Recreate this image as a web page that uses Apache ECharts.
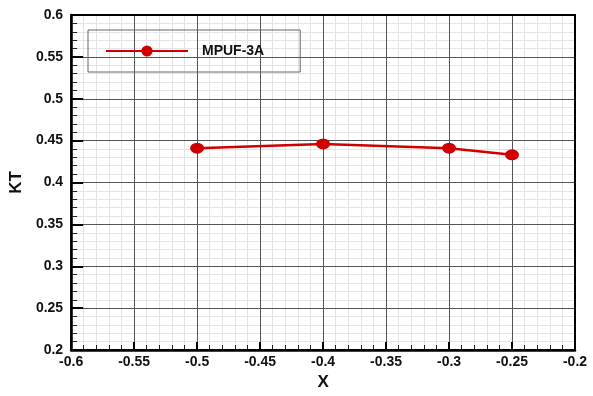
<!DOCTYPE html>
<html>
<head>
<meta charset="utf-8">
<script src="https://cdn.jsdelivr.net/npm/echarts@6/dist/echarts.min.js"></script>
<style>html,body{margin:0;padding:0;background:#fff}#c{width:593px;height:396px}</style>
</head>
<body>
<div id="c"></div>
<script>
var xValues = [-0.5, -0.4, -0.3, -0.25];
var ktValues = [0.441, 0.446, 0.441, 0.433];
var seriesName = 'MPUF-3A';
var xTicks = ['-0.6','-0.55','-0.5','-0.45','-0.4','-0.35','-0.3','-0.25','-0.2'];
var yTicks = ['0.2','0.25','0.3','0.35','0.4','0.45','0.5','0.55','0.6'];

var chart = echarts.init(document.getElementById('c'));
var font = 'Liberation Sans, Arial, sans-serif';
function fmt(list, min, step) {
  return function (v) { var i = Math.round((v - min) / step); return list[i] !== undefined ? list[i] : ''; };
}
var axisText = { fontFamily: font, fontWeight: 'bold', fontSize: 14, color: '#111' };
var nameText = { fontFamily: font, fontWeight: 'bold', fontSize: 17, color: '#111' };
function minorAxis(min, max, pos) {
  return {
    type: 'value', min: min, max: max, interval: 0.05, position: pos, z: 0,
    axisLine: { show: false, onZero: false }, axisTick: { show: false }, axisLabel: { show: false },
    splitLine: { show: false },
    minorTick: { show: false, splitNumber: 5 },
    minorSplitLine: { show: true, lineStyle: { color: '#e4e4e4', width: 1 } }
  };
}
chart.setOption({
  animation: false,
  grid: { left: 66, right: 18, top: 15, bottom: 41, show: true, borderColor: '#000', borderWidth: 2, backgroundColor: 'transparent', z: 3 },
  legend: {
    left: 88, top: 30,
    data: [seriesName],
    borderColor: '#666', borderWidth: 1, borderRadius: 0,
    backgroundColor: 'transparent',
    padding: [14, 36, 14, 17],
    itemWidth: 82, itemHeight: 14,
    textStyle: { fontFamily: font, fontWeight: 'bold', fontSize: 14, color: '#111', padding: [0, 0, 0, 9] }
  },
  xAxis: [
    minorAxis(-0.6, -0.2, 'top'),
    {
      type: 'value', min: -0.6, max: -0.2, interval: 0.05, position: 'bottom', z: 1,
      name: 'X', nameLocation: 'middle', nameGap: 24,
      nameTextStyle: nameText,
      axisLine: { show: true, onZero: false, lineStyle: { color: '#000', width: 2.5 } },
      axisTick: { show: true, inside: true, length: 8, lineStyle: { color: '#000', width: 2 } },
      minorTick: { show: true, splitNumber: 5, length: 5, lineStyle: { color: '#222', width: 1 } },
      axisLabel: Object.assign({ margin: 5, formatter: fmt(xTicks, -0.6, 0.05) }, axisText),
      splitLine: { show: true, lineStyle: { color: '#555', width: 1 } },
      minorSplitLine: { show: false }
    }
  ],
  yAxis: [
    minorAxis(0.2, 0.6, 'right'),
    {
      type: 'value', min: 0.2, max: 0.6, interval: 0.05, position: 'left', z: 1,
      name: 'KT', nameLocation: 'middle', nameGap: 44,
      nameTextStyle: nameText,
      axisLine: { show: true, onZero: false, lineStyle: { color: '#000', width: 2.5 } },
      axisTick: { show: true, inside: true, length: 12, lineStyle: { color: '#000', width: 2 } },
      minorTick: { show: true, splitNumber: 5, length: 6, lineStyle: { color: '#222', width: 1 } },
      axisLabel: Object.assign({ margin: 8, formatter: fmt(yTicks, 0.2, 0.05) }, axisText),
      splitLine: { show: true, lineStyle: { color: '#555', width: 1 } },
      minorSplitLine: { show: false }
    }
  ],
  series: [{
    name: seriesName, type: 'line', xAxisIndex: 1, yAxisIndex: 1, z: 4,
    data: xValues.map(function (x, i) { return [x, ktValues[i]]; }),
    symbol: 'circle', symbolSize: [14, 11],
    lineStyle: { color: '#d00000', width: 2.5 },
    itemStyle: { color: '#d00000' }
  }]
});
</script>
</body>
</html>
